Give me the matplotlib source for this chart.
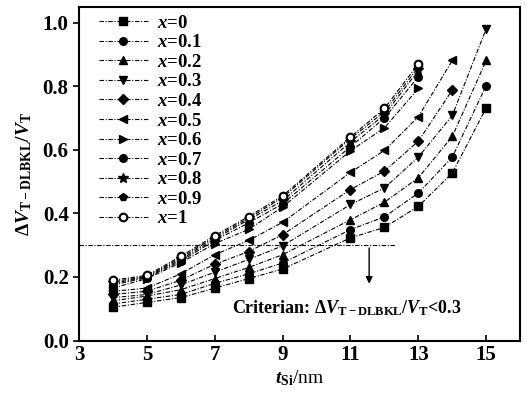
import matplotlib
matplotlib.use("Agg")
import matplotlib.pyplot as plt

plt.rcParams['font.family'] = 'Liberation Serif'
plt.rcParams['font.weight'] = 'bold'
plt.rcParams['mathtext.fontset'] = 'custom'
plt.rcParams['mathtext.rm'] = 'Liberation Serif:bold'
plt.rcParams['mathtext.it'] = 'Liberation Serif:bold:italic'
plt.rcParams['mathtext.bf'] = 'Liberation Serif:bold'

# thickness t_Si (nm)
t_si = [4, 5, 6, 7, 8, 9, 11, 12, 13, 14, 15]

# Ge fraction x and the markers used for each curve
x_labels = ['0', '0.1', '0.2', '0.3', '0.4', '0.5', '0.6', '0.7', '0.8', '0.9', '1']
markers = ['s', 'o', '^', 'v', 'D', '<', '>', 'o', '*', 'p', 'o']

# dVT/VT for each x (shorter lists stop earlier in t_si)
dv_x00 = [0.105, 0.120, 0.135, 0.165, 0.195, 0.225, 0.323, 0.356, 0.422, 0.527, 0.732]
dv_x01 = [0.115, 0.130, 0.145, 0.180, 0.210, 0.244, 0.349, 0.389, 0.464, 0.577, 0.802]
dv_x02 = [0.125, 0.140, 0.160, 0.195, 0.230, 0.270, 0.380, 0.435, 0.512, 0.642, 0.881]
dv_x03 = [0.135, 0.145, 0.175, 0.215, 0.255, 0.298, 0.428, 0.480, 0.577, 0.708, 0.981]
dv_x04 = [0.145, 0.155, 0.190, 0.240, 0.280, 0.333, 0.475, 0.533, 0.627, 0.788]
dv_x05 = [0.155, 0.165, 0.210, 0.270, 0.315, 0.372, 0.529, 0.598, 0.704, 0.881]
dv_x06 = [0.165, 0.195, 0.245, 0.305, 0.350, 0.420, 0.597, 0.669, 0.793]
dv_x07 = [0.175, 0.198, 0.250, 0.315, 0.370, 0.430, 0.610, 0.700, 0.830]
dv_x08 = [0.180, 0.200, 0.255, 0.320, 0.380, 0.440, 0.625, 0.710, 0.850]
dv_x09 = [0.185, 0.202, 0.260, 0.325, 0.385, 0.450, 0.635, 0.720, 0.860]
dv_x10 = [0.190, 0.205, 0.265, 0.330, 0.390, 0.455, 0.640, 0.730, 0.870]
series = [dv_x00, dv_x01, dv_x02, dv_x03, dv_x04, dv_x05,
          dv_x06, dv_x07, dv_x08, dv_x09, dv_x10]

criterion = 0.3

fig = plt.figure(figsize=(5.27, 3.96), dpi=100)
ax = fig.add_axes([0.150, 0.140, 0.837, 0.843])

ls = (0, (4, 1.5, 1, 1.5))
for i, (lab, mk, dv) in enumerate(zip(x_labels, markers, series)):
    kw = dict(color='black', lw=0.8, ls=ls, marker=mk, ms=5.5,
              markerfacecolor='black', markeredgecolor='black')
    if i == 10:
        kw['markerfacecolor'] = 'white'
        kw['markeredgewidth'] = 1.5
    if mk == '*':
        kw['ms'] = 7.5
    ax.plot(t_si[:len(dv)], dv, label='$x$=' + lab, **kw)

# criterion line and arrow
ax.plot([3, 12.35], [criterion, criterion], color='black', lw=0.8, ls=ls)
ax.annotate('', xy=(11.55, 0.17), xytext=(11.55, criterion),
            arrowprops=dict(arrowstyle='-|>', color='black', lw=1.0,
                            mutation_scale=10))
ax.text(10.9, 0.103, r'Criterian: $\Delta V_{\rm T-DLBKL}/V_{\rm T}$<0.3',
        ha='center', va='center', fontsize=13)

ax.set_xlim(3, 16)
ax.set_ylim(0, 1.05)
ax.set_xticks([3, 5, 7, 9, 11, 13, 15])
ax.set_yticks([0.0, 0.2, 0.4, 0.6, 0.8, 1.0])
ax.yaxis.set_major_formatter(matplotlib.ticker.FormatStrFormatter('%.1f'))
ax.tick_params(axis='x', direction='in', length=4, width=1.2, labelsize=15)
ax.tick_params(axis='y', direction='out', length=4, width=1.2, labelsize=15)
for s in ax.spines.values():
    s.set_linewidth(1.5)

ax.set_xlabel(r'$t_{\rm Si}$/nm', fontsize=14, labelpad=2)
ax.set_ylabel(r'$\Delta V_{\rm T-DLBKL}/V_{\rm T}$', fontsize=14, labelpad=6)

ax.legend(loc='upper left', bbox_to_anchor=(0.02, 1.01), frameon=False,
          fontsize=13.5, labelspacing=0.13, handlelength=2.6, handletextpad=0.5,
          borderaxespad=0.2)

fig.savefig('out.png', dpi=100)
